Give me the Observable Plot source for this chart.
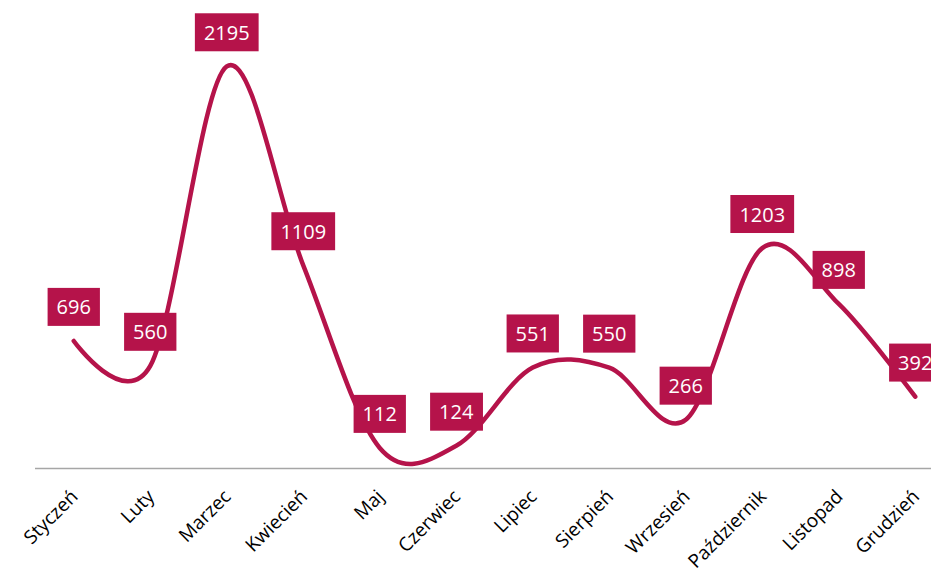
<!DOCTYPE html>
<html><head><meta charset="utf-8">
<script src="https://cdn.jsdelivr.net/npm/d3@7"></script>
<script src="https://cdn.jsdelivr.net/npm/@observablehq/plot@0.6"></script>
<style>body{margin:0;background:#fff;overflow:hidden}</style>
</head><body><div id="chart"></div>
<script>
const months = ["Styczeń","Luty","Marzec","Kwiecień","Maj","Czerwiec","Lipiec","Sierpień","Wrzesień","Październik","Listopad","Grudzień"];
const values = [696,560,2195,1109,112,124,551,550,266,1203,898,392];
const data = months.map((m,i)=>({month:m, value:values[i]}));
const color = "#b5134a";
const chart = Plot.plot({
  width: 931, height: 576,
  marginLeft: 35, marginRight: -22, marginTop: 10, marginBottom: 108,
  style: {fontFamily: "'Open Sans', sans-serif", overflow: "hidden", background: "white"},
  x: {type: "point", domain: months, padding: 0.5, round: false, label: null},
  y: {domain: [0, 2500], axis: null},
  marks: [
    Plot.ruleY([0], {stroke: "#a6a6a6", strokeWidth: 1.5}),
    Plot.line(data, {x:"month", y:"value", curve:"cardinal", stroke: color, strokeWidth: 4.5, strokeLinecap:"round"}),
    Plot.text(data, {x:"month", y:"value", text: d=>String(d.value), dy:-33, fill:"white", fontSize:20}),
    Plot.axisX({tickRotate:-45, tickSize:0, tickPadding:25, dx:1, fontSize:19, fill:"black", label:null})
  ]
});
document.getElementById("chart").append(chart);
// draw label boxes behind the value labels
chart.querySelectorAll('g[aria-label="text"] text').forEach(t => {
  const b = t.getBBox();
  const cy = b.y + b.height/2;
  const r = document.createElementNS("http://www.w3.org/2000/svg","rect");
  r.setAttribute("x", b.x - 9);
  r.setAttribute("width", b.width + 18);
  r.setAttribute("y", cy - 19);
  r.setAttribute("height", 38);
  r.setAttribute("fill", color);
  if (t.getAttribute("transform")) r.setAttribute("transform", t.getAttribute("transform"));
  t.parentNode.insertBefore(r, t);
});
</script>
</body></html>
